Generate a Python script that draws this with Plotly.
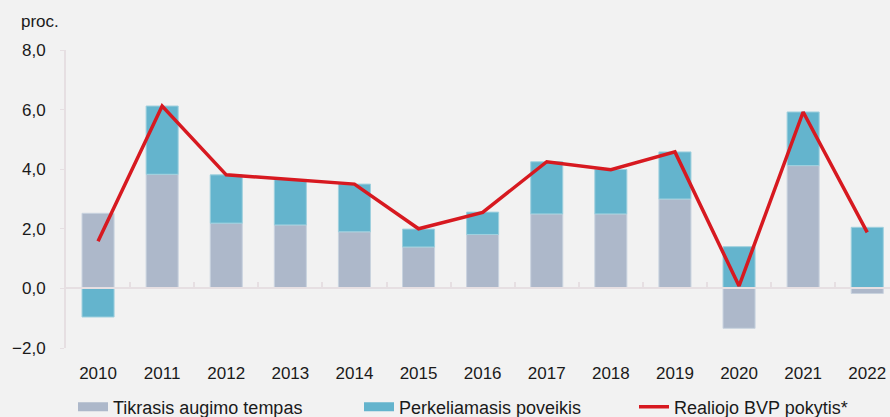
import plotly.graph_objects as go

years = ["2010", "2011", "2012", "2013", "2014", "2015", "2016", "2017", "2018", "2019", "2020", "2021", "2022"]
tikrasis = [2.52, 3.83, 2.19, 2.13, 1.90, 1.39, 1.81, 2.50, 2.50, 3.00, -1.34, 4.12, -0.17]
perkeliamasis = [-0.96, 2.29, 1.62, 1.52, 1.60, 0.60, 0.75, 1.75, 1.49, 1.58, 1.40, 1.80, 2.05]
bvp = [1.58, 6.12, 3.81, 3.66, 3.50, 2.00, 2.55, 4.25, 3.98, 4.58, 0.08, 5.92, 1.88]

series_names = ["Tikrasis augimo tempas", "Perkeliamasis poveikis", "Realiojo BVP pokytis*"]
ytick_vals = [-2, 0, 2, 4, 6, 8]

GRAY = "#adb8ca"
TEAL = "#64b4cd"
RED = "#d71920"
AXC = "#e6dfe2"
FONT = "Liberation Sans, Arial, sans-serif"

fig = go.Figure()
fig.add_trace(go.Bar(x=years, y=tikrasis, name=series_names[0], showlegend=False,
                     marker=dict(color=GRAY, line=dict(color="#c9d3df", width=1))))
fig.add_trace(go.Bar(x=years, y=perkeliamasis, name=series_names[1], showlegend=False,
                     marker=dict(color=TEAL, line=dict(color="#9fd0de", width=1))))
fig.add_trace(go.Scatter(x=years, y=bvp, name=series_names[2], mode="lines", showlegend=False,
                         line=dict(color=RED, width=3.5)))
# legend entries (wide rectangular swatches like the reference), one legend each
fig.add_trace(go.Scatter(x=[None], y=[None], name=series_names[0], mode="lines",
                         line=dict(color=GRAY, width=9), legend="legend"))
fig.add_trace(go.Scatter(x=[None], y=[None], name=series_names[1], mode="lines",
                         line=dict(color=TEAL, width=9), legend="legend2"))
fig.add_trace(go.Scatter(x=[None], y=[None], name=series_names[2], mode="lines",
                         line=dict(color=RED, width=3.5), legend="legend3"))

PW, PH = 824, 298
leg_common = dict(orientation="h", xanchor="left", y=-59 / PH, yanchor="middle",
                  font=dict(size=18), bgcolor="rgba(0,0,0,0)")

fig.update_layout(
    width=890, height=417,
    paper_bgcolor="#f2f2f2", plot_bgcolor="#f2f2f2",
    barmode="relative", bargap=0.5,
    margin=dict(l=66, r=0, t=50, b=69, autoexpand=False),
    font=dict(family=FONT, size=17, color="#1a1a1a"),
    showlegend=True,
    legend=dict(x=(73 - 66) / PW, **leg_common),
    legend2=dict(x=(359 - 66) / PW, **leg_common),
    legend3=dict(x=(634 - 66) / PW, **leg_common),
    xaxis=dict(type="category", range=[-0.5, 12.355], showline=False, ticks="",
               showgrid=False, zeroline=False, tickfont=dict(size=17), ticklabelstandoff=13),
    xaxis2=dict(matches="x", overlaying="x", anchor="free", position=0.2, side="bottom",
                showline=True, linecolor=AXC, linewidth=2, ticks="inside", ticklen=5,
                tickwidth=1.5, tickcolor=AXC, tickson="boundaries", showticklabels=False,
                showgrid=False, zeroline=False),
    yaxis=dict(range=[-2, 8], tickvals=ytick_vals, tickformat=".1f", showgrid=False,
               zeroline=False, showline=True, linecolor=AXC, linewidth=2, ticks="outside",
               ticklen=4, tickcolor=AXC, tickfont=dict(size=17), ticklabelstandoff=11),
    separators=",.",
    annotations=[dict(text="proc.", xref="paper", yref="paper", x=(19 - 66) / PW, y=1 + 28 / PH,
                      xanchor="left", yanchor="middle", showarrow=False, font=dict(size=17))],
)
# invisible helper trace to activate xaxis2
fig.add_trace(go.Scatter(x=years, y=[None] * len(years), xaxis="x2", showlegend=False, hoverinfo="skip"))

fig.write_html("out.html", config={"displayModeBar": False},
               post_script="document.body.style.margin='0';document.body.style.overflow='hidden';")
